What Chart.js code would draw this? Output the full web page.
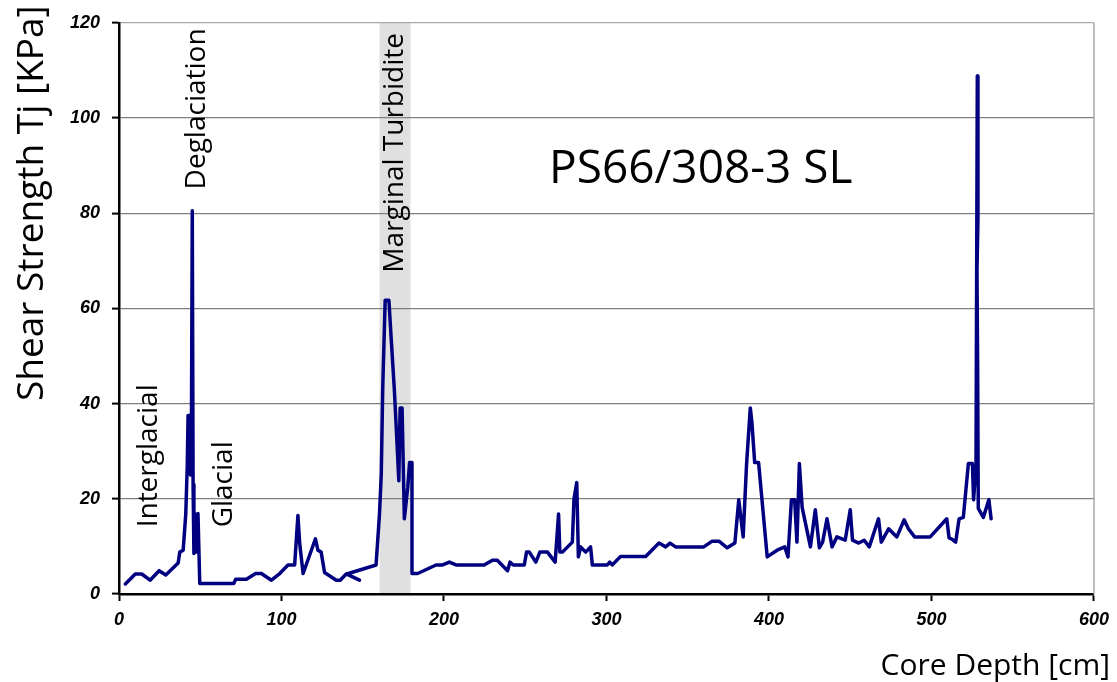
<!DOCTYPE html>
<html>
<head>
<meta charset="utf-8">
<title>PS66/308-3 SL</title>
<script src="https://cdn.jsdelivr.net/npm/chart.js@4/dist/chart.umd.min.js"></script>
<style>
    html, body { margin: 0; padding: 0; background: #fff; }
    #wrap { width: 1117px; height: 682px; position: relative; }
</style>
</head>
<body>
<div id="wrap"><canvas id="shearChart" width="1117" height="682"></canvas></div>
<script>
// Core depth [cm] and shear strength [kPa], in measurement order
const depthCm = [
    3.9, 10, 14, 19.1, 24.7, 28.8, 36.4, 37.4, 39.5, 41.1, 42.0, 42.5, 43.5, 44.0, 44.6, 45.1,
    45.6, 46.1, 46.6, 47.6, 48.6, 49.7, 70.6, 71.8, 78.4, 84.1, 87.6, 93.8, 98.9, 104, 108.1,
    110.1, 111.2, 113.3, 120.9, 122.4, 124.4, 126.5, 133.7, 136.1, 139.8, 148, 140.2, 158.2,
    160.3, 161.4, 162.3, 163.8, 166.1, 167.5, 169.5, 171, 172.2, 173, 174.2, 175.6, 177.7,
    178.8, 180.3, 180.3, 183.8, 195.1, 199.2, 203.3, 207.4, 224.7, 229.8, 232.8, 239.1, 240.6,
    242.6, 249.4, 250.8, 252.5, 256.5, 259, 263.7, 268.4, 270.5, 271.3, 272.9, 279, 280, 281.7,
    282.7, 284.1, 287.2, 290.2, 291.3, 300.5, 302, 303.5, 308.7, 324.1, 332.3, 336.4, 339.1,
    342.5, 359.9, 365, 369.2, 374.3, 379, 381.4, 384.1, 386.2, 388.5, 389.5, 391.2, 393.6,
    398.9, 405, 409.7, 411.7, 413.8, 415.8, 417.2, 418.7, 420.4, 425.5, 428.5, 431, 433, 435.7,
    438.8, 441.8, 446.9, 450, 451.4, 455.2, 458.6, 461.7, 467.4, 469.1, 473.6, 478.7, 483.2,
    485.8, 489.6, 499.2, 509.4, 510.8, 512.7, 514.9, 517, 519.6, 522.7, 525.2, 525.9, 527.4,
    528.2, 528.6, 528.0, 528.4, 528.8, 531.9, 535.3, 536.7
];
const shearKPa = [
    2.1, 4.2, 4.2, 2.9, 4.9, 4.0, 6.5, 8.8, 9.2, 16.9, 26.9, 37.5, 37.5, 25, 37.5, 80.5,
    23, 8.5, 16.9, 8.8, 16.9, 2.2, 2.2, 3.1, 3.1, 4.3, 4.3, 2.9, 4.3, 6.1, 6.1,
    16.5, 10.6, 4.3, 11.6, 9.2, 8.8, 4.5, 2.9, 2.9, 4.2, 2.9, 4.2, 6.1,
    16.8, 25.2, 43.3, 61.7, 61.7, 53.7, 42.6, 32.2, 23.8, 39.1, 39.1, 15.8, 22.4,
    27.6, 27.6, 4.3, 4.3, 6.1, 6.1, 6.7, 6.1, 6.1, 7.1, 7.1, 4.9, 6.7,
    6.1, 6.1, 8.8, 8.8, 6.7, 8.8, 8.8, 6.7, 16.8, 8.8, 8.8, 10.9, 20, 23.4,
    7.8, 9.9, 8.8, 9.9, 6.1, 6.1, 6.7, 6.1, 7.9, 7.9, 10.7, 9.9, 10.7,
    9.9, 9.9, 11.1, 11.1, 9.7, 10.7, 19.8, 12, 27.3, 39.1, 36, 27.6, 27.6,
    7.8, 9.2, 9.9, 7.8, 19.8, 19.8, 10.9, 27.4, 18.2, 9.9, 17.7, 9.7, 10.9, 15.8,
    9.9, 12, 11.3, 17.7, 11.3, 10.7, 11.3, 9.9, 15.8, 10.9, 13.7, 12, 15.6,
    13.7, 12, 12, 15.8, 11.8, 11.5, 10.9, 15.8, 16.1, 27.4, 27.4, 19.8, 27,
    108.8, 78.5, 68, 48, 18, 16.1, 19.8, 15.8
];

// Depth interval of the marginal turbidite (shaded)
const turbiditeCm = [160.3, 179.4];

// Section labels: text, depth [cm] of the baseline, strength [kPa] where the text starts
const sectionLabels = [
    { text: 'Interglacial',       depth: 23.3, kpa: 14 },
    { text: 'Glacial',            depth: 69.5, kpa: 14 },
    { text: 'Deglaciation',       depth: 53,   kpa: 85 },
    { text: 'Marginal Turbidite', depth: 175,  kpa: 67.5 }
];

const depthTicks = [0, 100, 200, 300, 400, 500, 600];
const shearTicks = [0, 20, 40, 60, 80, 100, 120];

const NAVY = '#000080';
const TEXT_FONT = '"Open Sans", "Noto Sans", sans-serif';
const TICK_FONT = { family: '"Liberation Sans", Arial, sans-serif', size: 18, style: 'italic', weight: 'bold' };

// shaded band behind everything, plus frame and text on top
const backdropPlugin = {
    id: 'backdrop',
    beforeDraw(chart) {
        const { ctx, chartArea, scales } = chart;
        const x0 = scales.x.getPixelForValue(turbiditeCm[0]);
        const x1 = scales.x.getPixelForValue(turbiditeCm[1]);
        ctx.save();
        ctx.fillStyle = '#e0e0e0';
        ctx.fillRect(x0, chartArea.top, x1 - x0, chartArea.bottom - chartArea.top);
        ctx.restore();
    },
    afterDraw(chart) {
        const { ctx, chartArea, scales } = chart;
        ctx.save();
        ctx.strokeStyle = '#a8a8a8';
        ctx.lineWidth = 1.5;
        ctx.beginPath();
        ctx.moveTo(chartArea.right, chartArea.top);
        ctx.lineTo(chartArea.right, chartArea.bottom);
        ctx.stroke();

        ctx.fillStyle = '#000';
        // section labels, rotated
        ctx.font = '28px ' + TEXT_FONT;
        ctx.textAlign = 'left';
        ctx.textBaseline = 'alphabetic';
        sectionLabels.forEach(l => {
            const px = scales.x.getPixelForValue(l.depth);
            const py = scales.y.getPixelForValue(l.kpa);
            ctx.save();
            ctx.translate(px, py);
            ctx.rotate(-Math.PI / 2);
            ctx.fillText(l.text, 0, 0);
            ctx.restore();
        });

        // core name
        ctx.font = '46px ' + TEXT_FONT;
        ctx.fillText('PS66/308-3 SL', 549, 183);

        // axis titles
        ctx.font = '37px ' + TEXT_FONT;
        ctx.save();
        ctx.translate(43, 401);
        ctx.rotate(-Math.PI / 2);
        ctx.fillText('Shear Strength Tj [KPa]', 0, 0);
        ctx.restore();

        ctx.font = '30px ' + TEXT_FONT;
        ctx.textAlign = 'right';
        ctx.fillText('Core Depth [cm]', 1110, 675);
        ctx.restore();
    }
};

const ctx = document.getElementById('shearChart').getContext('2d');
new Chart(ctx, {
    type: 'line',
    data: {
        datasets: [{
            label: 'Shear strength',
            data: depthCm.map((d, i) => ({ x: d, y: shearKPa[i] })),
            borderColor: NAVY,
            borderWidth: 3.5,
            borderJoinStyle: 'round',
            borderCapStyle: 'round',
            pointRadius: 0,
            tension: 0,
            fill: false
        }]
    },
    options: {
        responsive: false,
        animation: false,
        parsing: false,
        layout: { padding: { left: 0, right: 21, top: 18, bottom: 0 } },
        plugins: { legend: { display: false }, tooltip: { enabled: false } },
        scales: {
            x: {
                type: 'linear',
                min: 0,
                max: 600,
                afterFit: s => { s.height = 88; },
                afterBuildTicks: s => { s.ticks = depthTicks.map(v => ({ value: v })); },
                grid: { drawOnChartArea: false, tickColor: '#000', tickLength: 7, tickWidth: 2 },
                border: { color: '#000', width: 2.5 },
                ticks: { color: '#000', font: TICK_FONT, padding: 8, maxRotation: 0 }
            },
            y: {
                min: 0,
                max: 120,
                afterFit: s => { s.width = 119; },
                afterBuildTicks: s => { s.ticks = shearTicks.map(v => ({ value: v })); },
                grid: {
                    color: c => (c.tick && c.tick.value === 120 ? '#a8a8a8' : '#808080'),
                    lineWidth: 1.2,
                    tickColor: '#000',
                    tickLength: 7,
                    tickWidth: 2
                },
                border: { color: '#000', width: 2.5 },
                ticks: { color: '#000', font: TICK_FONT, padding: 12 }
            }
        }
    },
    plugins: [backdropPlugin]
});
</script>
</body>
</html>
